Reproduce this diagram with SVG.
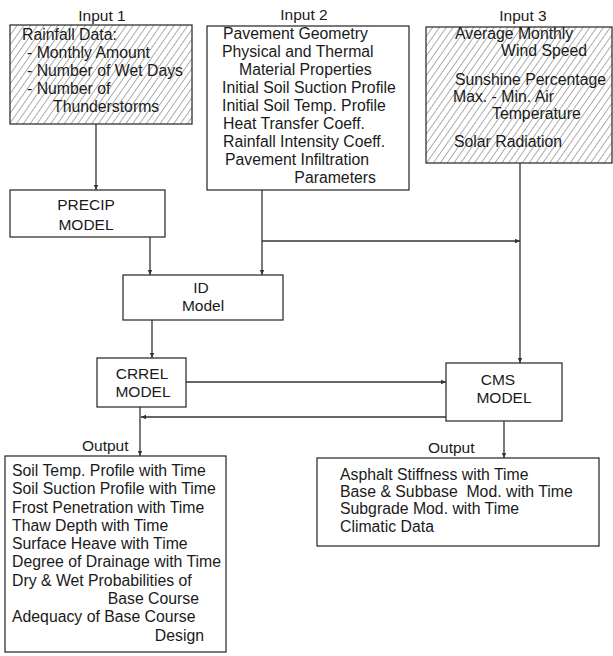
<svg xmlns="http://www.w3.org/2000/svg" width="613" height="656" viewBox="0 0 613 656">
<style>
.box{fill:#fff;stroke:#333;stroke-width:1.3}
.hatch{fill:url(#hatch);stroke:#333;stroke-width:1.3}
.t{font-family:"Liberation Sans",Arial,sans-serif;font-size:15.8px;fill:#1a1a1a}
.lbl{font-family:"Liberation Sans",Arial,sans-serif;font-size:15.5px;fill:#1a1a1a}
.c{text-anchor:middle}
.e{text-anchor:end}
.conn line{stroke:#333;stroke-width:1.3;fill:none}
</style>
<defs>
<pattern id="hatch" patternUnits="userSpaceOnUse" width="5.6" height="10" patternTransform="rotate(35)">
<rect width="5.6" height="10" fill="#fff"/>
<line x1="0" y1="0" x2="0" y2="10" stroke="#5a5a5a" stroke-width="1"/>
</pattern>
<marker id="arr" markerUnits="userSpaceOnUse" markerWidth="6" markerHeight="6" refX="5" refY="3" orient="auto">
<path d="M0,0.8 L5,3 L0,5.2 Z" fill="#333"/>
</marker>
</defs>
<rect width="613" height="656" fill="#fff"/>

<g id="input1">
<text class="lbl c" x="102" y="21">Input 1</text>
<rect class="hatch" x="10" y="25" width="182" height="99"/>
<text class="t" x="22" y="40">Rainfall Data:</text>
<text class="t" x="27" y="58">- Monthly Amount</text>
<text class="t" x="27" y="76">- Number of Wet Days</text>
<text class="t" x="27" y="94">- Number of</text>
<text class="t" x="53" y="112">Thunderstorms</text>
</g>

<g id="input2">
<text class="lbl c" x="304" y="20">Input 2</text>
<rect class="box" x="207" y="26" width="202" height="164"/>
<text class="t" x="223" y="39">Pavement Geometry</text>
<text class="t" x="222" y="57">Physical and Thermal</text>
<text class="t" x="239" y="75">Material Properties</text>
<text class="t" x="222" y="93">Initial Soil Suction Profile</text>
<text class="t" x="222" y="111">Initial Soil Temp. Profile</text>
<text class="t" x="223" y="129">Heat Transfer Coeff.</text>
<text class="t" x="223" y="147">Rainfall Intensity Coeff.</text>
<text class="t" x="225" y="165">Pavement Infiltration</text>
<text class="t e" x="376" y="183">Parameters</text>
</g>

<g id="input3">
<text class="lbl c" x="523" y="21">Input 3</text>
<rect class="hatch" x="426" y="27" width="186" height="136"/>
<text class="t" x="455" y="39">Average Monthly</text>
<text class="t" x="501" y="56">Wind Speed</text>
<text class="t" x="455" y="85">Sunshine Percentage</text>
<text class="t" x="453" y="102">Max. - Min. Air</text>
<text class="t" x="492" y="119">Temperature</text>
<text class="t" x="454" y="147">Solar Radiation</text>
</g>

<g id="precip">
<rect class="box" x="10" y="190" width="155" height="47"/>
<text class="lbl c" x="86" y="210">PRECIP</text>
<text class="lbl c" x="86" y="230">MODEL</text>
</g>

<g id="id-model">
<rect class="box" x="123" y="275" width="160" height="45"/>
<text class="lbl c" x="201" y="293">ID</text>
<text class="lbl c" x="203" y="311">Model</text>
</g>

<g id="crrel">
<rect class="box" x="97" y="358" width="89" height="49"/>
<text class="lbl c" x="142" y="379">CRREL</text>
<text class="lbl c" x="143" y="397">MODEL</text>
</g>

<g id="cms">
<rect class="box" x="446" y="363" width="116" height="58"/>
<text class="lbl c" x="498" y="385">CMS</text>
<text class="lbl c" x="504" y="403">MODEL</text>
</g>

<g id="output1">
<text class="lbl" x="82" y="451">Output</text>
<rect class="box" x="5" y="456" width="221" height="196"/>
<text class="t" x="12" y="476">Soil Temp. Profile with Time</text>
<text class="t" x="12" y="494">Soil Suction Profile with Time</text>
<text class="t" x="12" y="513">Frost Penetration with Time</text>
<text class="t" x="12" y="531">Thaw Depth with Time</text>
<text class="t" x="12" y="549">Surface Heave with Time</text>
<text class="t" x="12" y="567">Degree of Drainage with Time</text>
<text class="t" x="12" y="586">Dry &amp; Wet Probabilities of</text>
<text class="t e" x="199" y="604">Base Course</text>
<text class="t" x="12" y="622">Adequacy of Base Course</text>
<text class="t e" x="204" y="641">Design</text>
</g>

<g id="output2">
<text class="lbl" x="428" y="453">Output</text>
<rect class="box" x="317" y="458" width="282" height="88"/>
<text class="t" x="340" y="480">Asphalt Stiffness with Time</text>
<text class="t" x="340" y="497" style="white-space:pre">Base &amp; Subbase  Mod. with Time</text>
<text class="t" x="340" y="514">Subgrade Mod. with Time</text>
<text class="t" x="340" y="532">Climatic Data</text>
</g>

<g id="connectors" class="conn">
<line x1="96" y1="124" x2="96" y2="190" marker-end="url(#arr)"/>
<line x1="150" y1="237" x2="150" y2="275" marker-end="url(#arr)"/>
<line x1="262" y1="190" x2="262" y2="275" marker-end="url(#arr)"/>
<line x1="262" y1="241" x2="520" y2="241" marker-end="url(#arr)"/>
<line x1="520" y1="163" x2="520" y2="363" marker-end="url(#arr)"/>
<line x1="152" y1="320" x2="152" y2="358" marker-end="url(#arr)"/>
<line x1="186" y1="382" x2="446" y2="382" marker-end="url(#arr)"/>
<line x1="446" y1="417" x2="141" y2="417" marker-end="url(#arr)"/>
<line x1="140" y1="407" x2="140" y2="456" marker-end="url(#arr)"/>
<line x1="504" y1="421" x2="504" y2="458" marker-end="url(#arr)"/>
</g>
</svg>
